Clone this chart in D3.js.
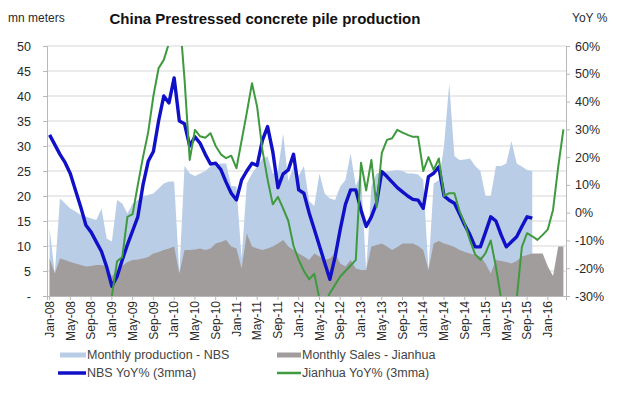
<!DOCTYPE html>
<meta charset="utf-8">
<title>China Prestressed concrete pile production</title>
<script src="https://cdn.jsdelivr.net/npm/d3@7"></script>
<style>
body { margin: 0; background: #fff; }
svg { font-family: Arial, 'Liberation Sans', sans-serif; }
</style>
<body>
<script>
// categories: Jan-08 .. Apr-16, one per month
const months = d3.timeMonth.range(new Date(2008, 0, 1), new Date(2016, 4, 1));

// mn meters, Jan-08 .. Oct-15
const nbsProduction = [
	13.5, 4.5, 19.5, 18.5, 17.5, 16.9, 16.2, 15.9, 15.5, 15.2, 17.5, 11.5,
	10.9, 19.2, 18.5, 16.5, 18.5, 19.2, 19.9, 20.2, 20.5, 21.5, 22.5, 22.9,
	22.9, 4.5, 26, 24.5, 24, 24.5, 25, 25.9, 26.2, 26.5, 26.5, 22,
	21.9, 7.5, 22.5, 24.5, 25.9, 27.5, 27.9, 24.5, 25, 32.5, 23, 26,
	24, 26, 19, 18, 24.5, 20.5, 19.5, 19.2, 21.9, 23.2, 28.5, 22,
	24.5, 5, 22, 24.5, 24.7, 24.9, 25, 25.2, 25, 24.5, 24.5, 24.3,
	23.2, 5.2, 22.5, 23.2, 30, 42.5, 28, 27.2, 27.3, 27.5, 26, 25,
	20, 20, 26, 26, 26.5, 31, 26.5, 25.9, 25.2, 25
];

// mn meters, Jan-08 .. Apr-16
const jianhuaSales = [
	7.5, 4.5, 7.5, 7.2, 6.8, 6.5, 6.2, 5.9, 6, 6.2, 6.2, 5.9,
	3.9, 5.2, 6, 6.8, 7.2, 7.3, 7.5, 7.8, 8.5, 8.8, 9.2, 9.5,
	9.9, 4.5, 9.2, 9.2, 9.3, 9.5, 9.2, 9.5, 10.5, 10.8, 11.2, 9.9,
	9.5, 5.5, 12.5, 9.9, 9.5, 9.2, 9.5, 9.9, 10.5, 11.2, 9.9, 9.2,
	8.5, 7.9, 7.2, 8.5, 7.9, 7.2, 7.5, 8.5, 6.5, 5.9, 7.2, 5.5,
	5.2, 5.2, 9.9, 10.2, 10.5, 9.9, 9.2, 9.8, 10.5, 10.5, 10.5, 10,
	9.2, 5.2, 10.5, 11, 10.5, 10.2, 9.8, 9.2, 8.8, 8.5, 8.2, 7.9,
	6.5, 4.5, 7.2, 7, 6.8, 6.5, 7, 7.9, 8.2, 8.5, 8.5, 8.5,
	5.9, 4, 9.9, 9.9
];

// YoY %, Jan-08 .. Oct-15
const nbsYoY = [
	28, 24.5, 21, 18, 14, 8, 2, -4.5, -7, -10.5, -14, -19.5,
	-26.5, -23, -17, -11.5, -6.5, -1.5, 10, 18.5, 22, 33, 42, 39.5,
	48.5, 33, 32, 24, 27.3, 25, 21, 17.5, 17.8, 15.5, 11, 7,
	4.6, 11.8, 15, 17.8, 17, 26, 31, 22, 9, 14, 15.4, 21,
	8.2, 7, 0, -6, -12, -18, -24, -16, -6, 3, 8.2, 8.2,
	1, -5, -1.5, 3.4, 14.8, 13, 11, 9, 7.5, 6, 4.8, 4.5,
	1.6, 13, 14.2, 16.5, 6, 4.5, 3.4, -0.5, -4.5, -8, -12.3, -12.3,
	-7, -1.5, -3, -8, -12.3, -10.5, -8.7, -5, -1.5, -2
];

// YoY %, Jan-09 .. Apr-16 (starts 12 months in)
const jianhuaYoY = [
	-30, -17.5, -16, -1.5, -0.5, 10, 20, 29, 42, 52, 55, 61,
	75, 72, 48, 19, 29.8, 27.5, 27, 28.6, 24, 21, 19.6, 20.5,
	16, 26, 36, 46.6, 38, 22.6, 12, 3, 5.7, 1.5, -3, -12,
	-17, -21, -24, -22, -31, -33, -29, -26, -23, -21, -19, -17,
	18, 8, 19, 2.1, 21.4, 26.2, 26.8, 29.8, 28.8, 28, 27.3, 27.3,
	15, 20, 15.4, 19.5, 6, 7, 7, 0.5, -4, -10, -15, -17,
	-14.6, -10, -19.5, -31, -40, -40, -31, -12.3, -7.4, -8.5, -9.8, -8,
	-6, 1, 16.5, 30
];
const jianhuaStart = 12;

const leftTicks = [0, 5, 10, 15, 20, 25, 30, 35, 40, 45, 50];
const rightTicks = [-30, -20, -10, 0, 10, 20, 30, 40, 50, 60];

const colors = {
	production: '#bacde7',
	sales: '#a19d9d',
	nbs: '#1010c8',
	jianhua: '#3f9a3f',
};
const textColor = '#2a2a2a';
const gridColor = '#e4e4e4';
const axisColor = '#b8b8b8';

const width = 618;
const height = 394;
const margin = { top: 46, right: 52, bottom: 98, left: 47 };
const plotW = width - margin.left - margin.right;
const plotH = height - margin.top - margin.bottom;

const svg = d3.select('body')
	.append('svg')
		.attr('width', width)
		.attr('height', height);

const g = svg.append('g')
	.attr('transform', `translate(${margin.left},${margin.top})`);

const x = d3.scaleBand()
	.domain(d3.range(months.length))
	.range([0, plotW]);
const cx = i => x(i) + x.bandwidth() / 2;

const yLeft = d3.scaleLinear().domain([0, 50]).range([plotH, 0]);
const yRight = d3.scaleLinear().domain([-30, 60]).range([plotH, 0]);

// Gridlines
g.append('g')
	.selectAll('line')
	.data(leftTicks.slice(1))
	.join('line')
		.attr('x1', 0)
		.attr('x2', plotW)
		.attr('y1', d => yLeft(d))
		.attr('y2', d => yLeft(d))
		.attr('stroke', gridColor)
		.attr('stroke-width', 1.5);

svg.append('clipPath')
	.attr('id', 'plot')
	.append('rect')
		.attr('width', plotW)
		.attr('height', plotH);

const plot = g.append('g').attr('clip-path', 'url(#plot)');

// Areas
const area = d3.area()
	.x((d, i) => cx(i))
	.y0(yLeft(0))
	.y1(d => yLeft(d));

plot.append('path')
	.datum(nbsProduction)
	.attr('fill', colors.production)
	.attr('d', area);

plot.append('path')
	.datum(jianhuaSales)
	.attr('fill', colors.sales)
	.attr('d', area);

// Lines
plot.append('path')
	.datum(nbsYoY)
	.attr('fill', 'none')
	.attr('stroke', colors.nbs)
	.attr('stroke-width', 3.4)
	.attr('stroke-linejoin', 'round')
	.attr('d', d3.line().x((d, i) => cx(i)).y(d => yRight(d)));

plot.append('path')
	.datum(jianhuaYoY)
	.attr('fill', 'none')
	.attr('stroke', colors.jianhua)
	.attr('stroke-width', 2)
	.attr('stroke-linejoin', 'round')
	.attr('d', d3.line().x((d, i) => cx(i + jianhuaStart)).y(d => yRight(d)));

// Left axis
const leftAxis = g.append('g')
	.call(d3.axisLeft(yLeft)
		.tickValues(leftTicks)
		.tickSize(4)
		.tickPadding(12)
		.tickFormat(d => d === 0 ? '-' : d));

// Right axis
const rightAxis = g.append('g')
	.attr('transform', `translate(${plotW},0)`)
	.call(d3.axisRight(yRight)
		.tickValues(rightTicks)
		.tickSize(4)
		.tickPadding(5)
		.tickFormat(d => d + '%'));

// Bottom axis
const bottomAxis = g.append('g')
	.attr('transform', `translate(0,${plotH})`)
	.call(d3.axisBottom(x)
		.tickValues(d3.range(0, months.length, 4))
		.tickSize(4)
		.tickFormat(i => d3.timeFormat('%b-%y')(months[i])));

[leftAxis, rightAxis, bottomAxis].forEach(ax => {
	ax.selectAll('.domain').attr('stroke', axisColor);
	ax.selectAll('.tick line').attr('stroke', axisColor);
	ax.selectAll('text')
		.attr('fill', textColor)
		.attr('font-size', 12.5);
});
bottomAxis.selectAll('text')
	.attr('font-size', 12)
	.attr('transform', 'rotate(-90)')
	.attr('text-anchor', 'end')
	.attr('x', -5)
	.attr('y', 0)
	.attr('dy', '0.35em');

// Titles
svg.append('text')
	.attr('x', 265)
	.attr('y', 24)
	.attr('text-anchor', 'middle')
	.attr('font-size', 15)
	.attr('font-weight', 'bold')
	.attr('fill', '#111')
	.text('China Prestressed concrete pile production');

svg.append('text')
	.attr('x', 8)
	.attr('y', 22)
	.attr('font-size', 12)
	.attr('fill', textColor)
	.text('mn meters');

svg.append('text')
	.attr('x', 572)
	.attr('y', 22)
	.attr('font-size', 12)
	.attr('fill', textColor)
	.text('YoY %');

// Legend
const legendItems = [
	{ name: 'Monthly production - NBS', color: colors.production, w: 5, x: 60, y: 355 },
	{ name: 'Monthly Sales - Jianhua', color: colors.sales, w: 5, x: 277, y: 355 },
	{ name: 'NBS YoY% (3mma)', color: colors.nbs, w: 3.5, x: 58, y: 373 },
	{ name: 'Jianhua YoY% (3mma)', color: colors.jianhua, w: 2.5, x: 277, y: 373 },
];
const legend = svg.append('g')
	.selectAll('g')
	.data(legendItems)
	.join('g')
		.attr('transform', d => `translate(${d.x},${d.y})`);
legend.append('line')
	.attr('x1', 0)
	.attr('x2', d => d.x < 100 ? 86 - d.x : 24)
	.attr('stroke', d => d.color)
	.attr('stroke-width', d => d.w);
legend.append('text')
	.attr('x', d => (d.x < 100 ? 86 - d.x : 24) + 1)
	.attr('dy', '0.35em')
	.attr('font-size', 12.5)
	.attr('fill', '#444')
	.text(d => d.name);
</script>
</body>
